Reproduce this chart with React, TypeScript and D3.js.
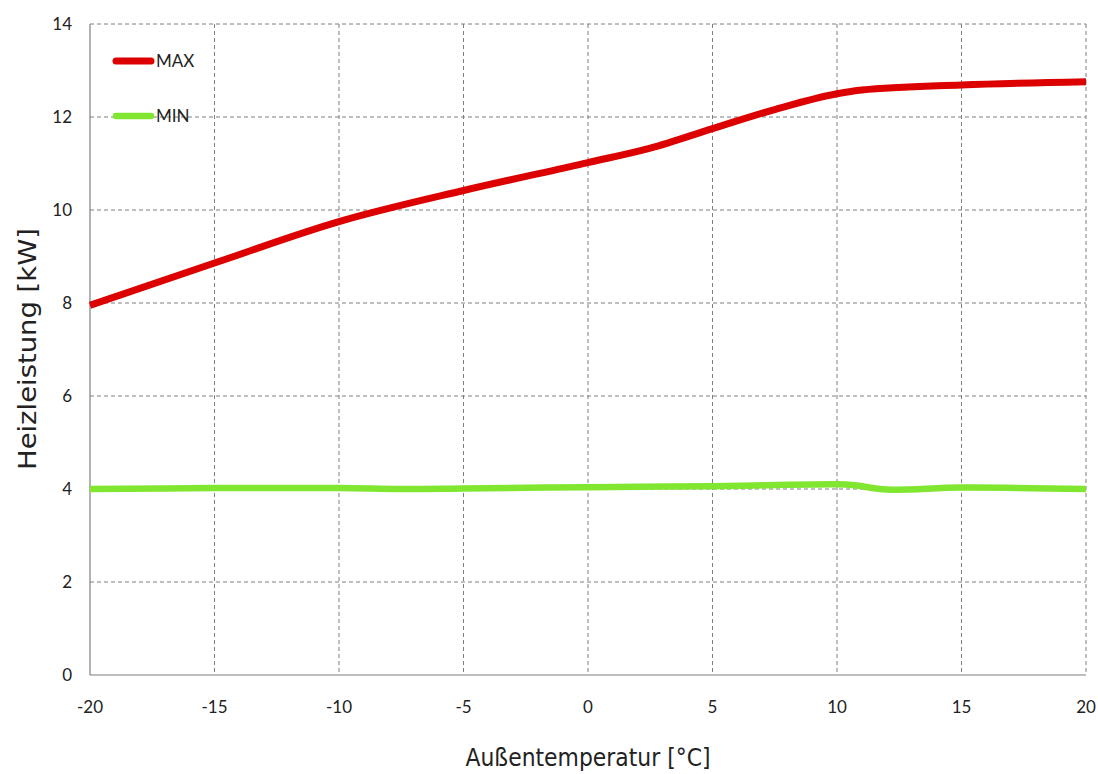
import React from "react";
import * as d3 from "d3";

const temps = [-20, -15, -10, -5, 0, 2.5, 5, 7.5, 10, 11, 15, 20];
const maxValues = [7.95, 8.86, 9.75, 10.42, 11.02, 11.33, 11.75, 12.16, 12.5, 12.58, 12.69, 12.76];
const minTemps = [-20, -15, -10, -7.5, -5, 0, 5, 10, 10.7, 12, 15, 20];
const minValues = [4.0, 4.02, 4.02, 4.0, 4.01, 4.04, 4.06, 4.1, 4.08, 3.99, 4.03, 4.0];
const xTicks = [-20, -15, -10, -5, 0, 5, 10, 15, 20];
const yTicks = [0, 2, 4, 6, 8, 10, 12, 14];

const W = 1098, H = 774;
const L = 90, R = 1086, T = 24, B = 675;

export default function App() {
  const x = d3.scaleLinear().domain([-20, 20]).range([L, R]);
  const y = d3.scaleLinear().domain([0, 14]).range([B, T]);
  const maxLine = d3.line<number>().x((_, i) => x(temps[i])).y((d) => y(d)).curve(d3.curveMonotoneX);
  const minLine = d3.line<number>().x((_, i) => x(minTemps[i])).y((d) => y(d)).curve(d3.curveCatmullRom.alpha(0.5));
  const grid = "#7f7f7f";
  const tickFont = "Lato, 'Open Sans', sans-serif";
  const titleFont = "'DejaVu Sans', sans-serif";
  return (
    <svg width={W} height={H} style={{ position: "absolute", left: 0, top: 0, background: "#fff" }}>
      {xTicks.slice(1).map((t) => (
        <line key={"gx" + t} x1={x(t)} x2={x(t)} y1={T} y2={B} stroke={grid} strokeWidth={1} strokeDasharray="4,3" />
      ))}
      {yTicks.slice(1).map((t) => (
        <line key={"gy" + t} x1={L} x2={R} y1={y(t)} y2={y(t)} stroke={grid} strokeWidth={1} strokeDasharray="4,3" />
      ))}
      <line x1={L} x2={L} y1={T} y2={B} stroke={grid} strokeWidth={1.2} />
      <line x1={L} x2={R} y1={B} y2={B} stroke={grid} strokeWidth={1.2} />
      {yTicks.map((t) => (
        <text key={"ty" + t} x={72} y={y(t) + 6} textAnchor="end" fontFamily={tickFont} fontSize={17} fill="#222">
          {t}
        </text>
      ))}
      {xTicks.map((t) => (
        <text key={"tx" + t} x={x(t)} y={713} textAnchor="middle" fontFamily={tickFont} fontSize={17} fill="#222">
          {t}
        </text>
      ))}
      <path d={maxLine(maxValues) || ""} fill="none" stroke="#dc0000" strokeWidth={7} strokeLinejoin="round" />
      <path d={minLine(minValues) || ""} fill="none" stroke="#80e62f" strokeWidth={6.5} strokeLinejoin="round" />
      <line x1={116} x2={151} y1={61} y2={61} stroke="#dc0000" strokeWidth={7} strokeLinecap="round" />
      <text x={156} y={67} fontFamily={tickFont} fontSize={17} fill="#222">MAX</text>
      <line x1={116} x2={151} y1={116} y2={116} stroke="#80e62f" strokeWidth={6.5} strokeLinecap="round" />
      <text x={156} y={122} fontFamily={tickFont} fontSize={17} fill="#222">MIN</text>
      <text x={588} y={766} textAnchor="middle" fontFamily={titleFont} fontSize={25} fill="#222" textLength={245} lengthAdjust="spacingAndGlyphs">
        Außentemperatur [°C]
      </text>
      <text transform={`translate(36,349) rotate(-90)`} textAnchor="middle" fontFamily={titleFont} fontSize={25} fill="#222" textLength={242} lengthAdjust="spacingAndGlyphs">
        Heizleistung [kW]
      </text>
    </svg>
  );
}
